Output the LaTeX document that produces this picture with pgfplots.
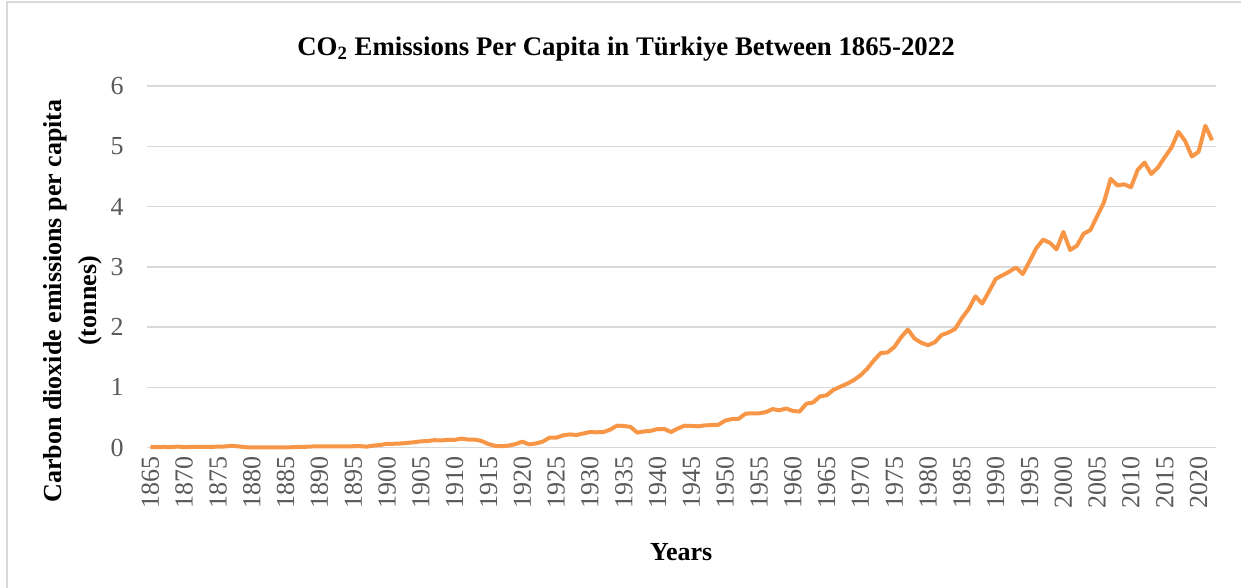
\documentclass[border=0pt]{standalone}
\usepackage{pgfplots}
\pgfplotsset{compat=1.18}
\usepackage{pgfplotstable}
\usepackage{fontspec}
\setmainfont{Liberation Serif}

\definecolor{lineorange}{HTML}{F79646}
\definecolor{gridgray}{HTML}{D9D9D9}
\definecolor{ticktext}{HTML}{595959}

% Per-capita CO2 emissions, tonnes
\pgfplotstableread{
year value
1865 0.010
1866 0.010
1867 0.012
1868 0.010
1869 0.018
1870 0.010
1871 0.012
1872 0.012
1873 0.013
1874 0.013
1875 0.018
1876 0.020
1877 0.030
1878 0.022
1879 0.008
1880 0.005
1881 0.006
1882 0.007
1883 0.007
1884 0.006
1885 0.005
1886 0.008
1887 0.012
1888 0.015
1889 0.020
1890 0.022
1891 0.022
1892 0.022
1893 0.022
1894 0.022
1895 0.024
1896 0.025
1897 0.018
1898 0.035
1899 0.045
1900 0.065
1901 0.065
1902 0.070
1903 0.080
1904 0.090
1905 0.105
1906 0.110
1907 0.125
1908 0.120
1909 0.130
1910 0.130
1911 0.150
1912 0.135
1913 0.135
1914 0.110
1915 0.060
1916 0.030
1917 0.025
1918 0.035
1919 0.060
1920 0.100
1921 0.055
1922 0.070
1923 0.100
1924 0.165
1925 0.165
1926 0.205
1927 0.220
1928 0.210
1929 0.235
1930 0.260
1931 0.255
1932 0.260
1933 0.300
1934 0.365
1935 0.360
1936 0.345
1937 0.250
1938 0.270
1939 0.280
1940 0.310
1941 0.310
1942 0.260
1943 0.320
1944 0.365
1945 0.360
1946 0.355
1947 0.370
1948 0.375
1949 0.380
1950 0.450
1951 0.475
1952 0.480
1953 0.565
1954 0.570
1955 0.570
1956 0.590
1957 0.640
1958 0.620
1959 0.650
1960 0.610
1961 0.600
1962 0.730
1963 0.750
1964 0.850
1965 0.870
1966 0.960
1967 1.010
1968 1.060
1969 1.120
1970 1.200
1971 1.310
1972 1.450
1973 1.570
1974 1.580
1975 1.670
1976 1.830
1977 1.960
1978 1.810
1979 1.740
1980 1.700
1981 1.750
1982 1.870
1983 1.910
1984 1.970
1985 2.150
1986 2.300
1987 2.510
1988 2.390
1989 2.590
1990 2.800
1991 2.860
1992 2.920
1993 2.990
1994 2.880
1995 3.090
1996 3.310
1997 3.450
1998 3.400
1999 3.290
2000 3.580
2001 3.280
2002 3.350
2003 3.550
2004 3.610
2005 3.840
2006 4.070
2007 4.460
2008 4.350
2009 4.370
2010 4.320
2011 4.610
2012 4.730
2013 4.540
2014 4.650
2015 4.820
2016 4.980
2017 5.240
2018 5.090
2019 4.830
2020 4.910
2021 5.340
2022 5.100
}\emissions

\begin{document}
\begin{tikzpicture}
\path[use as bounding box] (0,0) rectangle (620.5pt,-294pt);
% chart area frame
\draw[gridgray, line width=0.6pt] (3.5pt,-294pt) -- (3.5pt,-1pt) -- (620.5pt,-1pt);

\node[font=\fontsize{13.4}{16}\selectfont\bfseries] at (313pt,-24.5pt)
  {CO\textsubscript{2} Emissions Per Capita in Türkiye Between 1865-2022};

\begin{axis}[
  at={(73.5pt,-43pt)}, anchor=north west,
  scale only axis,
  width=534.25pt, height=180.85pt,
  xmin=1864.5, xmax=2022.5,
  ymin=0, ymax=6,
  xtick={1865,1870,...,2020},
  ytick={0,1,...,6},
  axis line style={draw=none},
  major tick length=0pt,
  ymajorgrids,
  grid style={gridgray, line width=0.75pt},
  /pgf/number format/assume math mode=true,
  /pgf/number format/1000 sep={},
  tick label style={font=\fontsize{13}{15}\selectfont, text=ticktext},
  % rotated labels: a negative xshift moves them down the page
  xticklabel style={rotate=90, anchor=east, inner xsep=0pt, xshift=-4pt},
  yticklabel style={anchor=east, inner xsep=0pt, xshift=-11.5pt},
  xlabel={Years},
  ylabel={Carbon dioxide emissions per capita\\(tonnes)},
  label style={font=\fontsize{13}{17.5}\selectfont\bfseries},
  xlabel style={at={(rel axis cs:0.5,-0.29)}, anchor=center},
  ylabel style={at={(rel axis cs:-0.0697,0.4056)}, anchor=center, align=center, rotate=0},
  clip=false,
]
\addplot[lineorange, line width=2pt, line join=round] table[x=year, y=value] {\emissions};
\end{axis}
\end{tikzpicture}
\end{document}
